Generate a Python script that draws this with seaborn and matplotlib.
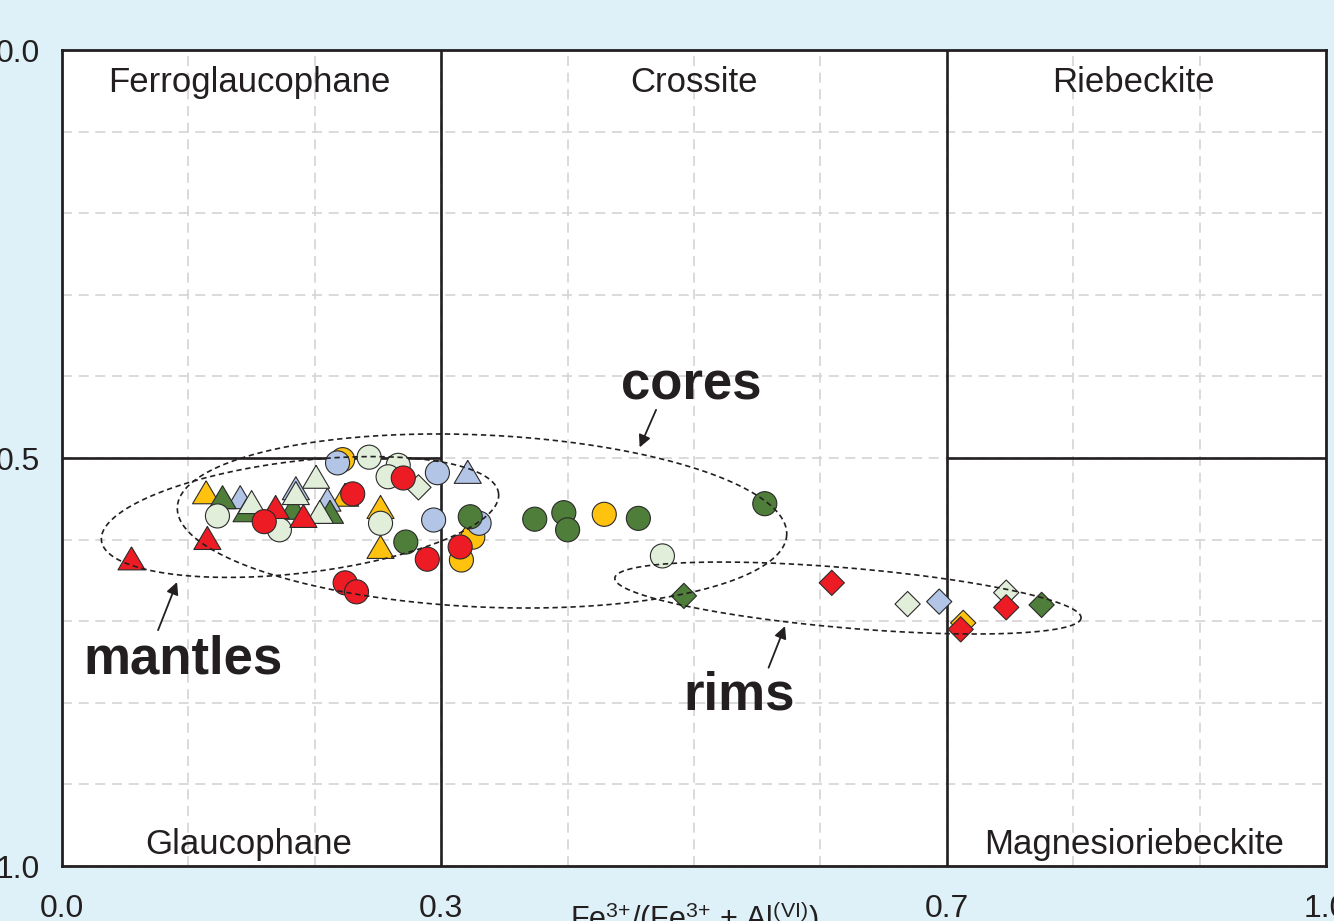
import numpy as np
import pandas as pd
import matplotlib
matplotlib.use("Agg")
import matplotlib.pyplot as plt
import seaborn as sns

# ---------------- data ----------------
yellow_x = [0.114, 0.224, 0.252, 0.252, 0.222, 0.325, 0.316, 0.429, 0.713]
yellow_y = [0.542, 0.545, 0.560, 0.609, 0.502, 0.597, 0.625, 0.569, 0.702]
yellow_shape = ["tri", "tri", "tri", "tri", "circ", "circ", "circ", "circ", "dia"]

lightblue_x = [0.141, 0.185, 0.210, 0.321, 0.218, 0.297, 0.294, 0.330, 0.694]
lightblue_y = [0.548, 0.537, 0.551, 0.517, 0.506, 0.518, 0.576, 0.580, 0.676]
lightblue_shape = ["tri", "tri", "tri", "tri", "circ", "circ", "circ", "circ", "dia"]

darkgreen_x = [0.127, 0.146, 0.183, 0.212, 0.323, 0.272, 0.374, 0.397, 0.400, 0.456, 0.556, 0.492, 0.775]
darkgreen_y = [0.548, 0.564, 0.561, 0.566, 0.572, 0.603, 0.575, 0.567, 0.588, 0.574, 0.556, 0.669, 0.680]
darkgreen_shape = ["tri", "tri", "tri", "tri", "circ", "circ", "circ", "circ", "circ", "circ", "circ", "dia", "dia"]

lightgreen_x = [0.150, 0.201, 0.185, 0.204, 0.243, 0.266, 0.258, 0.252, 0.123, 0.172, 0.475, 0.282, 0.669, 0.747]
lightgreen_y = [0.554, 0.523, 0.543, 0.566, 0.499, 0.509, 0.523, 0.580, 0.571, 0.588, 0.620, 0.536, 0.679, 0.665]
lightgreen_shape = ["tri", "tri", "tri", "tri", "circ", "circ", "circ", "circ", "circ", "circ", "circ", "dia", "dia", "dia"]

red_x = [0.055, 0.115, 0.169, 0.191, 0.270, 0.230, 0.160, 0.315, 0.289, 0.224, 0.233, 0.609, 0.711, 0.747]
red_y = [0.623, 0.598, 0.560, 0.571, 0.5245, 0.544, 0.578, 0.609, 0.624, 0.653, 0.664, 0.653, 0.710, 0.683]
red_shape = ["tri", "tri", "tri", "tri", "circ", "circ", "circ", "circ", "circ", "circ", "circ", "dia", "dia", "dia"]

x_ticks = [0.0, 0.3, 0.7, 1.0]
x_ticklabels = ["0.0", "0.3", "0.7", "1.0"]
y_ticks = [0.0, 0.5, 1.0]
y_ticklabels = ["0.0", "0.5", "1.0"]

field_x_bounds = [0.3, 0.7]
field_y_bound = 0.5
field_names = ["Ferroglaucophane", "Crossite", "Riebeckite", "Glaucophane", "Magnesioriebeckite"]
field_x = [0.148, 0.5, 0.848, 0.148, 0.848]
field_y = [0.0515, 0.0515, 0.0515, 0.985, 0.985]

# ellipses: centre x, centre y, semi-axis (x units), semi-axis (y units), tilt deg
ellipse_names = ["mantles", "cores", "rims"]
ellipse_cx = [0.1883, 0.3323, 0.6218]
ellipse_cy = [0.5723, 0.5772, 0.6716]
ellipse_a = [0.1582, 0.2413, 0.1851]
ellipse_b = [0.0686, 0.1054, 0.0368]
ellipse_tilt = [-6.8, 2.6, 4.9]

label_x = [0.0961, 0.498, 0.5356]
label_y = [0.7635, 0.4277, 0.8076]
arrow_tail = [(0.076, 0.711), (0.470, 0.441), (0.559, 0.757)]
arrow_head = [(0.091, 0.652), (0.457, 0.487), (0.572, 0.706)]

# ---------------- styling ----------------
sns.set_style("white")
plt.rcParams["font.family"] = ["Liberation Sans", "DejaVu Sans"]
plt.rcParams["mathtext.fontset"] = "custom"
plt.rcParams["mathtext.rm"] = "Liberation Sans"
plt.rcParams["mathtext.it"] = "Liberation Sans:italic"
plt.rcParams["mathtext.bf"] = "Liberation Sans:bold"

INK = "#231f20"
BG = "#def1f8"
palette = {"yellow": "#fec20f", "lightblue": "#b3c5e6", "darkgreen": "#4f7d3a",
           "lightgreen": "#e1eed9", "red": "#ed1c24"}

tri_verts = np.array([[0.0, 0.85], [-1.0, -0.85], [1.0, -0.85], [0.0, 0.85]])
markers = {"tri": tri_verts, "circ": "o", "dia": "D"}
sizes = {"tri": 380, "circ": 300, "dia": 165}

FIG_W, FIG_H = 1334, 921
AX_L, AX_B, AX_W, AX_H = 62, 55, 1264, 816
fig = plt.figure(figsize=(FIG_W / 100, FIG_H / 100), dpi=100, facecolor=BG)
ax = fig.add_axes([AX_L / FIG_W, AX_B / FIG_H, AX_W / FIG_W, AX_H / FIG_H])
ax.set_facecolor("white")

rows = []
for name, xs, ys, shp in [("yellow", yellow_x, yellow_y, yellow_shape),
                          ("lightblue", lightblue_x, lightblue_y, lightblue_shape),
                          ("darkgreen", darkgreen_x, darkgreen_y, darkgreen_shape),
                          ("lightgreen", lightgreen_x, lightgreen_y, lightgreen_shape),
                          ("red", red_x, red_y, red_shape)]:
    for x, y, s in zip(xs, ys, shp):
        rows.append({"x": x, "y": y, "group": name, "shape": s})
df = pd.DataFrame(rows)

sns.scatterplot(data=df, x="x", y="y", hue="group", palette=palette,
                style="shape", markers=markers, size="shape", sizes=sizes,
                edgecolor="#2b2b2b", linewidth=0.8, legend=False, ax=ax, zorder=3)

# axes
ax.set_xlim(0, 1)
ax.set_ylim(1, 0)
ax.set_xticks(x_ticks)
ax.set_xticklabels(x_ticklabels)
ax.set_yticks(y_ticks)
ax.set_yticklabels(y_ticklabels)
ax.set_xticks(np.round(np.arange(0, 1.01, 0.1), 1), minor=True)
ax.set_yticks(np.round(np.arange(0, 1.01, 0.1), 1), minor=True)
ax.grid(True, which="both", color="#d4d4d4", linewidth=1.2, linestyle=(0, (6, 4)))
ax.set_axisbelow(True)
ax.tick_params(which="both", length=0)
ax.tick_params(axis="x", pad=20, labelsize=23, labelcolor=INK)
ax.tick_params(axis="y", pad=16, labelsize=23, labelcolor=INK)
for sp in ax.spines.values():
    sp.set_color(INK)
    sp.set_linewidth(2.0)
ax.set_ylabel("")
ax.set_xlabel(r"Fe$^{3{+}}$/(Fe$^{3{+}}$ + Al$^{\mathrm{(VI)}}$)",
              fontsize=22, color=INK)
ax.xaxis.set_label_coords(0.5, -0.040)

# field boundaries
for xb in field_x_bounds:
    ax.axvline(xb, color=INK, linewidth=1.9, zorder=2)
ax.hlines(field_y_bound, 0, field_x_bounds[0], color=INK, linewidth=1.9, zorder=2)
ax.hlines(field_y_bound, field_x_bounds[1], 1, color=INK, linewidth=1.9, zorder=2)

for name, fx, fy in zip(field_names, field_x, field_y):
    ax.text(fx, fy, name, ha="center", va="baseline", fontsize=25, color=INK, zorder=4)

# ellipses
phi = np.linspace(0, 2 * np.pi, 500)
for cx, cy, a, b, tilt in zip(ellipse_cx, ellipse_cy, ellipse_a, ellipse_b, ellipse_tilt):
    t = np.deg2rad(tilt)
    apx, bpx = a * AX_W, b * AX_H
    dx = apx * np.cos(phi) * np.cos(t) - bpx * np.sin(phi) * np.sin(t)
    dy = apx * np.cos(phi) * np.sin(t) + bpx * np.sin(phi) * np.cos(t)
    ax.plot(cx + dx / AX_W, cy + dy / AX_H, color=INK, linewidth=1.2,
            linestyle=(0, (3.2, 2.2)), zorder=5)

# labels + arrows
for name, lx, ly, tail, head in zip(ellipse_names, label_x, label_y, arrow_tail, arrow_head):
    ax.text(lx, ly, name, ha="center", va="baseline", fontsize=38,
            fontweight="bold", color=INK, zorder=6)
    ax.annotate("", xy=head, xytext=tail,
                arrowprops=dict(arrowstyle="-|>", color=INK, lw=1.3,
                                mutation_scale=18, shrinkA=0, shrinkB=0),
                zorder=6)

fig.savefig("out.png", dpi=100, facecolor=BG)
